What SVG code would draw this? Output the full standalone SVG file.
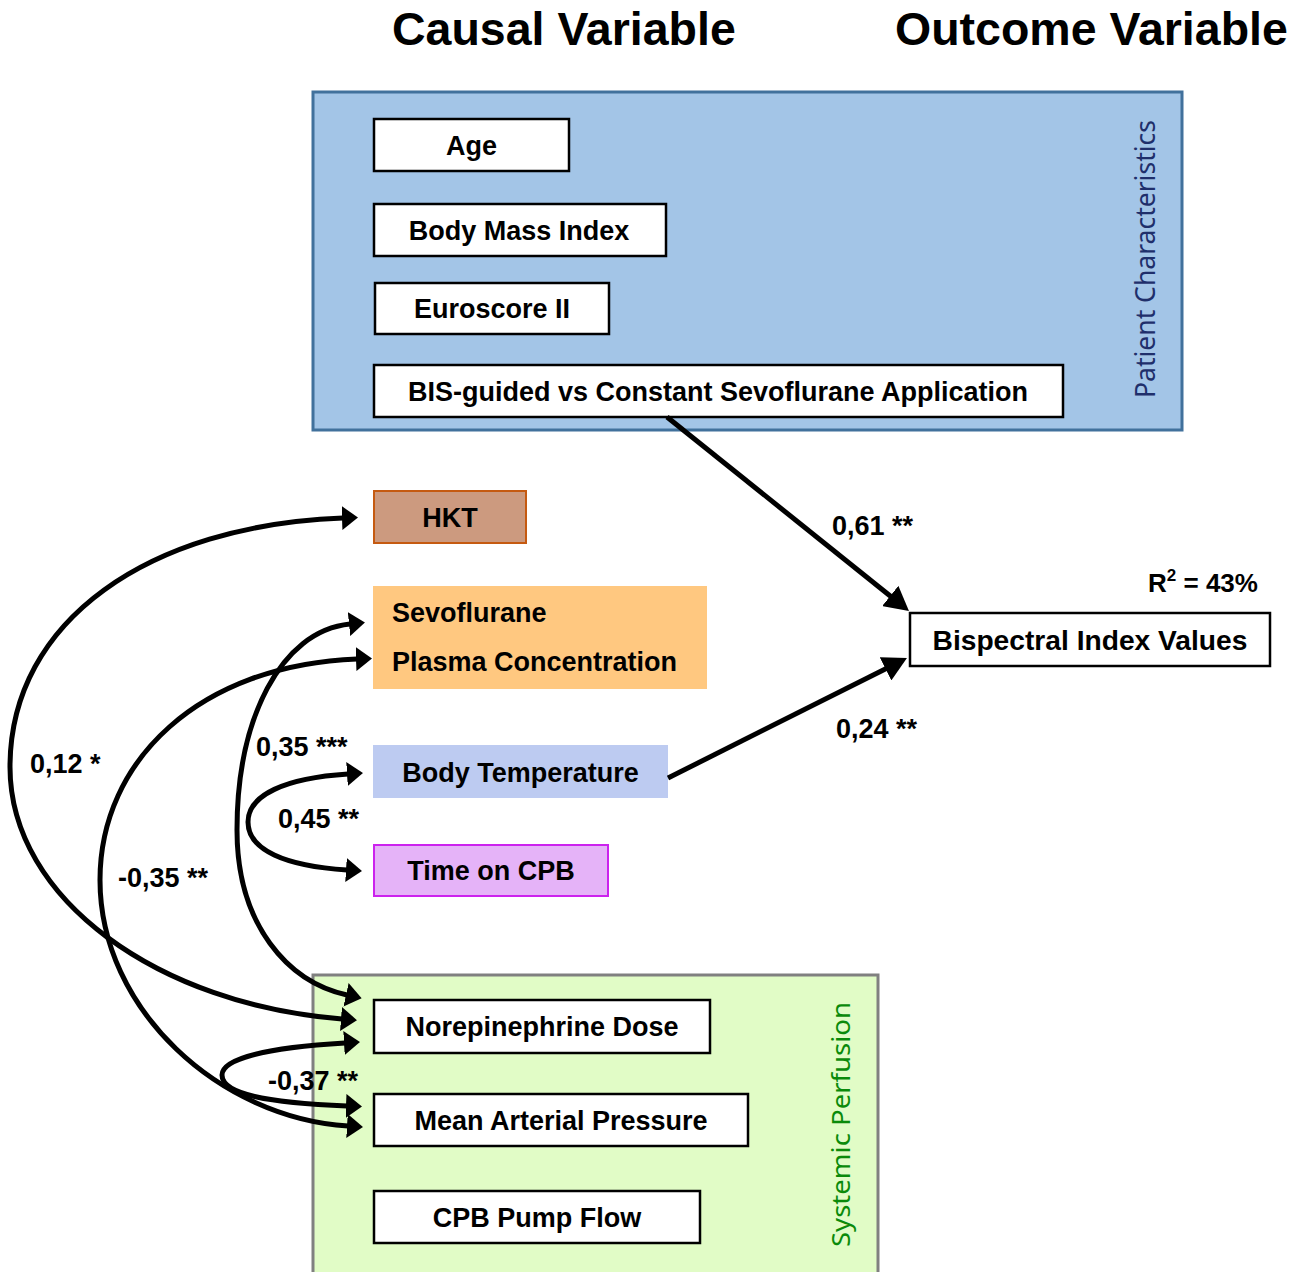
<svg xmlns="http://www.w3.org/2000/svg" width="1293" height="1272" viewBox="0 0 1293 1272">
  <style>
    .lbl { font-family: "Liberation Sans", Arial, sans-serif; font-weight: bold; fill: #000; }
    .title { font-size: 46.5px; }
    .node-text { font-size: 27px; text-anchor: middle; }
    .coef { font-size: 27px; }
    .box { fill: #fff; stroke: #000; stroke-width: 2.5; }
    .side { font-family: "Noto Sans", "Open Sans", sans-serif; }
    .link { fill: none; stroke: #000; stroke-width: 5; }
  </style>
  <defs>
    <marker id="head" viewBox="0 0 16 24" markerWidth="16" markerHeight="24" refX="1" refY="12" orient="auto-start-reverse" markerUnits="userSpaceOnUse">
      <path d="M0,0 L16,12 L0,24 z" fill="#000"/>
    </marker>
    <marker id="headBig" viewBox="0 0 24 26" markerWidth="24" markerHeight="26" refX="2" refY="13" orient="auto" markerUnits="userSpaceOnUse">
      <path d="M0,0 L24,13 L0,26 z" fill="#000"/>
    </marker>
  </defs>

  <rect width="1293" height="1272" fill="#fff"/>

  <!-- column headings -->
  <text class="lbl title" x="392" y="45">Causal Variable</text>
  <text class="lbl title" x="895" y="45">Outcome Variable</text>

  <!-- patient characteristics block -->
  <g id="patient-characteristics">
    <rect x="313" y="92" width="869" height="338" fill="#a3c5e7" stroke="#41719c" stroke-width="3"/>
    <text class="side" x="0" y="0" transform="translate(1155,259) rotate(-90)" text-anchor="middle" fill="#1f2f6b" font-size="27" textLength="278" lengthAdjust="spacingAndGlyphs">Patient Characteristics</text>
  </g>

  <!-- systemic perfusion block -->
  <g id="systemic-perfusion">
    <rect x="313" y="975" width="565" height="310" fill="#e1fcc6" stroke="#808080" stroke-width="3"/>
    <text class="side" x="0" y="0" transform="translate(850,1124.5) rotate(-90)" text-anchor="middle" fill="#0a8a0a" font-size="25" textLength="245" lengthAdjust="spacingAndGlyphs">Systemic  Perfusion</text>
  </g>

  <g id="age">
    <rect class="box" x="374" y="119" width="195" height="52"/>
    <text class="lbl node-text" x="471.5" y="154.5">Age</text>
  </g>
  <g id="bmi">
    <rect class="box" x="374" y="204" width="292" height="52"/>
    <text class="lbl node-text" x="519" y="239.5">Body Mass Index</text>
  </g>
  <g id="euroscore">
    <rect class="box" x="375" y="283" width="234" height="51"/>
    <text class="lbl node-text" x="492" y="318">Euroscore II</text>
  </g>
  <g id="bis-guided">
    <rect class="box" x="374" y="365" width="689" height="52"/>
    <text class="lbl node-text" x="718" y="400.5">BIS-guided vs Constant Sevoflurane Application</text>
  </g>

  <g id="hkt">
    <rect x="374" y="491" width="152" height="52" fill="#cc9a7f" stroke="#c55a11" stroke-width="2"/>
    <text class="lbl node-text" x="450" y="526.5">HKT</text>
  </g>
  <g id="sevoflurane">
    <rect x="373" y="586" width="334" height="103" fill="#ffc880"/>
    <text class="lbl" font-size="27" x="392" y="622">Sevoflurane</text>
    <text class="lbl" font-size="27" x="392" y="671">Plasma Concentration</text>
  </g>
  <g id="body-temperature">
    <rect x="373" y="745" width="295" height="53" fill="#bdcbf1"/>
    <text class="lbl node-text" x="520.5" y="781.5">Body Temperature</text>
  </g>
  <g id="time-on-cpb">
    <rect x="374" y="845" width="234" height="51" fill="#e5b3f8" stroke="#cc22ee" stroke-width="2"/>
    <text class="lbl node-text" x="491" y="880">Time on CPB</text>
  </g>

  <g id="norepinephrine">
    <rect class="box" x="374" y="1000" width="336" height="53"/>
    <text class="lbl node-text" x="542" y="1036">Norepinephrine Dose</text>
  </g>
  <g id="map">
    <rect class="box" x="374" y="1094" width="374" height="52"/>
    <text class="lbl node-text" x="561" y="1129.5">Mean Arterial Pressure</text>
  </g>
  <g id="pump-flow">
    <rect class="box" x="374" y="1191" width="326" height="52"/>
    <text class="lbl node-text" x="537" y="1226.5">CPB Pump Flow</text>
  </g>

  <g id="bispectral-index">
    <rect class="box" x="910" y="613" width="360" height="53"/>
    <text class="lbl node-text" style="font-size:28.2px" x="1090" y="649.5">Bispectral Index Values</text>
  </g>

  <!-- connectors -->
  <g id="connectors">
    <path class="link" d="M667,417 L891.8,597.2" marker-end="url(#headBig)"/>
    <path class="link" d="M668,778 L887.3,667.9" marker-end="url(#headBig)"/>
    <!-- HKT <-> Norepinephrine -->
    <path class="link" d="M343,518 C150,525 10,620 10,767 C10,900 160,1005 342,1019" marker-start="url(#head)" marker-end="url(#head)"/>
    <!-- Sevoflurane <-> Norepinephrine -->
    <path class="link" d="M350,624 C280,631 237,720 237,830 C237,925 288,982 347,995" marker-start="url(#head)" marker-end="url(#head)"/>
    <!-- Sevoflurane <-> Mean Arterial Pressure -->
    <path class="link" d="M357,659 C200,665 100,760 100,880 C100,1010 220,1118 348,1126" marker-start="url(#head)" marker-end="url(#head)"/>
    <!-- Body Temperature <-> Time on CPB -->
    <path class="link" d="M348,774 C285,778 248,795 248,822 C248,850 285,866 347,870" marker-start="url(#head)" marker-end="url(#head)"/>
    <!-- Norepinephrine <-> Mean Arterial Pressure -->
    <path class="link" d="M345,1043 C260,1048 222,1060 222,1075 C222,1095 270,1103 347,1106" marker-start="url(#head)" marker-end="url(#head)"/>
  </g>

  <!-- path coefficients -->
  <g id="coefficients">
    <text class="lbl coef" x="832" y="535">0,61 **</text>
    <text class="lbl coef" x="836" y="738">0,24 **</text>
    <text class="lbl coef" x="30" y="773">0,12 *</text>
    <text class="lbl coef" x="256" y="756">0,35 ***</text>
    <text class="lbl coef" x="278" y="828">0,45 **</text>
    <text class="lbl coef" x="118" y="887">-0,35 **</text>
    <text class="lbl coef" x="268" y="1090">-0,37 **</text>
    <text class="lbl" font-size="26" x="1148" y="592">R<tspan font-size="17" dy="-11">2</tspan><tspan dy="11"> = 43%</tspan></text>
  </g>
</svg>
